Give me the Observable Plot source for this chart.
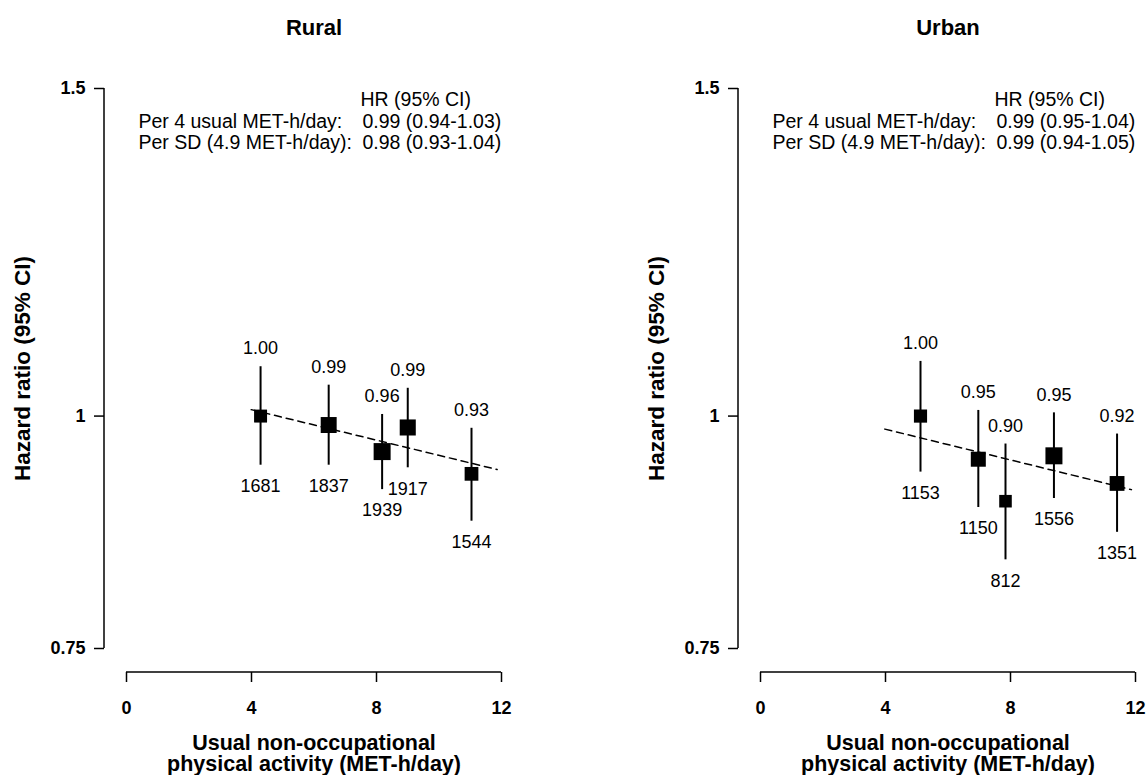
<!DOCTYPE html>
<html><head><meta charset="utf-8">
<script src="https://cdn.jsdelivr.net/npm/d3@7"></script>
<script src="https://cdn.jsdelivr.net/npm/@observablehq/plot@0.6"></script>
<style>
html,body{margin:0;padding:0;background:#fff;}
#wrap{display:flex;width:1147px;height:775px;overflow:hidden;}
#wrap svg{flex:none;}
</style></head><body><div id="wrap"></div>
<script>
// ---- data ----
const panelNames = ["Rural", "Urban"];
const ruralX  = [4.29, 6.47, 8.18, 9.00, 11.04];
const ruralHR = [1.000, 0.989, 0.957, 0.986, 0.931];
const ruralLo = [0.941, 0.941, 0.913, 0.938, 0.878];
const ruralHi = [1.063, 1.039, 1.002, 1.035, 0.985];
const ruralN  = [1681, 1837, 1939, 1917, 1544];
const urbanX  = [5.12, 6.97, 7.84, 9.39, 11.41];
const urbanHR = [1.000, 0.948, 0.900, 0.952, 0.920];
const urbanLo = [0.933, 0.893, 0.837, 0.903, 0.866];
const urbanHi = [1.070, 1.007, 0.966, 1.004, 0.978];
const urbanN  = [1153, 1150, 812, 1556, 1351];
const ruralTrendX  = [3.99, 11.86];
const ruralTrendHR = [1.008, 0.936];
const urbanTrendX  = [3.98, 11.87];
const urbanTrendHR = [0.984, 0.913];
const xTicks = [0, 4, 8, 12];
const xTickLabels = ["0", "4", "8", "12"];
const yTicks = [0.75, 1, 1.5];
const yTickLabels = ["0.75", "1", "1.5"];
const summaryHeader = "HR (95% CI)";
const summaryRows = ["Per 4 usual MET-h/day:", "Per SD (4.9 MET-h/day):"];
const ruralSummary = ["0.99 (0.94-1.03)", "0.98 (0.93-1.04)"];
const urbanSummary = ["0.99 (0.95-1.04)", "0.99 (0.94-1.05)"];
const xTitleLines = ["Usual non-occupational", "physical activity (MET-h/day)"];
const yTitle = "Hazard ratio (95% CI)";

const FONT = "'Liberation Sans', Arial, Helvetica, sans-serif";

function axisLines(index, scales, values, dims) {
  const sx = scales.x, sy = scales.y;
  const g = d3.create("svg:g").attr("stroke", "black").attr("stroke-width", 1.5).attr("fill", "none");
  const bottom = dims.height - dims.marginBottom;
  const left = dims.marginLeft;
  g.append("line").attr("x1", left).attr("x2", left)
    .attr("y1", sy(d3.min(yTicks))).attr("y2", sy(d3.max(yTicks)));
  g.append("line").attr("y1", bottom).attr("y2", bottom)
    .attr("x1", sx(d3.min(xTicks))).attr("x2", sx(d3.max(xTicks)));
  return g.node();
}

function panel(name, X, HR, LO, HI, N, TX, TY, summary, width, marginRight) {
  const data = X.map((x, i) => ({x, hr: HR[i], lo: LO[i], hi: HI[i], n: N[i]}));
  const wmin = d3.min(data, d => Math.log(d.hi / d.lo));
  data.forEach(d => { d.side = 17 * wmin / Math.log(d.hi / d.lo); });
  const trend = TX.map((x, i) => ({x, hr: TY[i]}));
  const midX = (d3.min(xTicks) + d3.max(xTicks)) / 2;
  const rowDy = [11, 33, 54];
  return Plot.plot({
    width, height: 775,
    marginLeft: 104, marginRight, marginTop: 88, marginBottom: 103,
    x: {domain: [d3.min(xTicks), d3.max(xTicks)], range: [126, 501]},
    y: {type: "log", domain: [d3.min(yTicks), d3.max(yTicks)], range: [648, 88]},
    r: {type: "linear", domain: [0, 1], range: [0, 1]},
    style: {fontFamily: FONT, fontSize: "18px", background: "white", color: "black", overflow: "visible"},
    marks: [
      Plot.axisY({ticks: yTicks, tickSize: 10, strokeWidth: 1.5, tickFormat: () => "", label: null}),
      Plot.axisX({ticks: xTicks, tickSize: 10, strokeWidth: 1.5, tickFormat: () => "", label: null}),
      axisLines,
      Plot.text(yTicks, {y: d => d, frameAnchor: "left", dx: -19, text: (d, i) => yTickLabels[i],
        textAnchor: "end", lineAnchor: "middle", fontWeight: "bold", fontSize: 18}),
      Plot.text(xTicks, {x: d => d, frameAnchor: "bottom", dy: 36, text: (d, i) => xTickLabels[i],
        textAnchor: "middle", lineAnchor: "middle", fontWeight: "bold", fontSize: 18}),
      Plot.line(trend, {x: "x", y: "hr", stroke: "black", strokeWidth: 1.5, strokeDasharray: "7,5"}),
      Plot.ruleX(data, {x: "x", y1: "lo", y2: "hi", stroke: "black", strokeWidth: 2}),
      Plot.dot(data, {x: "x", y: "hr", symbol: "square", r: d => d.side / Math.sqrt(Math.PI), fill: "black", stroke: null}),
      Plot.text(data, {x: "x", y: "hi", text: d => d.hr.toFixed(2), dy: -18, fontSize: 18}),
      Plot.text(data, {x: "x", y: "lo", text: d => String(d.n), dy: 21, fontSize: 18}),
      // panel title
      Plot.text([name], {x: () => midX, frameAnchor: "top", dy: -61, text: d => d, fontWeight: "bold", fontSize: 22, lineAnchor: "middle"}),
      // x title (two lines in one text)
      Plot.text([xTitleLines.join("\n")], {x: () => midX, frameAnchor: "bottom", dy: 81, text: d => d,
        fontWeight: "bold", fontSize: 21.5, lineAnchor: "middle", lineHeight: 1.0}),
      // y title
      Plot.text([yTitle], {frameAnchor: "left", text: d => d, rotate: -90, dx: -82, dy: -12, textAnchor: "middle",
        lineAnchor: "middle", fontWeight: "bold", fontSize: 22.5}),
      // summary block
      Plot.text([summaryHeader], {frameAnchor: "top-left", text: d => d, dx: 256, dy: rowDy[0], textAnchor: "start", lineAnchor: "middle", fontSize: 19.5}),
      ...summaryRows.map((t, i) => Plot.text([t], {frameAnchor: "top-left", text: d => d, dx: 34, dy: rowDy[i + 1], textAnchor: "start", lineAnchor: "middle", fontSize: 19.5})),
      ...summary.map((t, i) => Plot.text([t], {frameAnchor: "top-left", text: d => d, dx: 258, dy: rowDy[i + 1], textAnchor: "start", lineAnchor: "middle", fontSize: 19.5}))
    ]
  });
}

const wrap = document.getElementById("wrap");
wrap.append(panel(panelNames[0], ruralX, ruralHR, ruralLo, ruralHi, ruralN, ruralTrendX, ruralTrendHR, ruralSummary, 634, 133));
wrap.append(panel(panelNames[1], urbanX, urbanHR, urbanLo, urbanHi, urbanN, urbanTrendX, urbanTrendHR, urbanSummary, 513, 12));
</script></body></html>
